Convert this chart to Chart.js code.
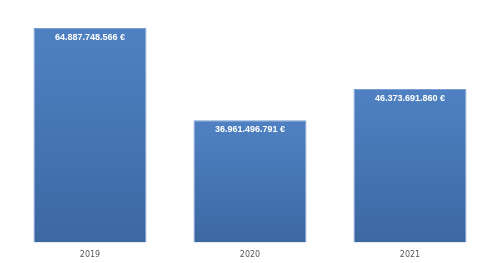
<!DOCTYPE html>
<html>
<head>
<meta charset="utf-8">
<script src="https://cdn.jsdelivr.net/npm/chart.js@4/dist/chart.umd.min.js"></script>
<style>
html,body{margin:0;padding:0;background:#fff;}
#wrap{width:500px;height:263px;position:relative;}
</style>
</head>
<body>
<div id="wrap"><canvas id="c"></canvas></div>
<script>
const categories = ["2019", "2020", "2021"];
const values = [64887748566, 36961496791, 46373691860];
const valueLabels = ["64.887.748.566 €", "36.961.496.791 €", "46.373.691.860 €"];

function barGradient(ctx) {
  const chart = ctx.chart;
  const y = chart.scales && chart.scales.y;
  if (!chart.chartArea || !y || ctx.parsed === undefined) return '#4a78b5';
  const top = y.getPixelForValue(ctx.parsed.y);
  const bottom = y.getPixelForValue(0);
  const g = chart.ctx.createLinearGradient(0, top, 0, bottom);
  g.addColorStop(0, '#4f81c2');
  g.addColorStop(1, '#3c68a2');
  return g;
}

const labelPlugin = {
  id: 'valueLabels',
  afterDatasetsDraw(chart) {
    const ctx = chart.ctx;
    const meta = chart.getDatasetMeta(0);
    ctx.save();
    ctx.fillStyle = '#ffffff';
    ctx.font = 'bold 9px "Liberation Sans", Arial, sans-serif';
    ctx.textAlign = 'center';
    ctx.textBaseline = 'middle';
    meta.data.forEach((bar, i) => {
      ctx.fillText(valueLabels[i], bar.x, bar.y + 9.5);
    });
    ctx.restore();
  }
};

new Chart(document.getElementById('c'), {
  type: 'bar',
  data: {
    labels: categories,
    datasets: [{
      data: values,
      backgroundColor: barGradient,
      borderColor: '#7c9fd2',
      borderWidth: 1,
      borderSkipped: 'bottom',
      categoryPercentage: 1,
      barPercentage: 0.706
    }]
  },
  options: {
    responsive: true,
    maintainAspectRatio: false,
    animation: false,
    layout: { padding: { left: 10, right: 10, top: 11, bottom: 3 } },
    plugins: { legend: { display: false }, tooltip: { enabled: false } },
    scales: {
      y: { display: false, min: 0, max: 70000000000 },
      x: {
        grid: { display: false, drawBorder: false },
        border: { display: false },
        ticks: { color: '#595959', font: { family: '"DejaVu Sans", sans-serif', size: 8 }, padding: 0 }
      }
    }
  },
  plugins: [labelPlugin]
});
</script>
</body>
</html>
